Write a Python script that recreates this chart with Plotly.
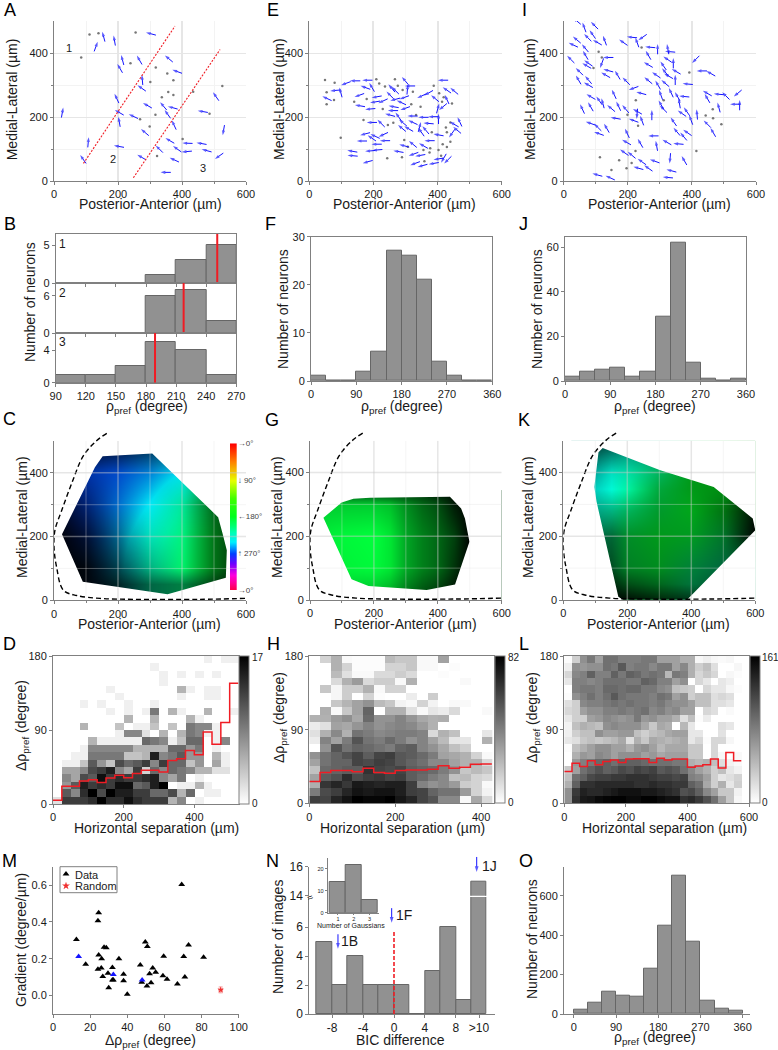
import math
import plotly.graph_objects as go

W, H = 778, 1050
FONT = "Liberation Sans"
TXT = "#1a1a1a"
AXC = "#808080"
BAR = "#919191"
BARL = "#666666"
BLUE = "#1414ff"
RED = "#f01c24"
ARROW_LEN = 32

# ---------- A ----------
A_x = [26,131,155,189,303,214,206,267,359,385,276,274,196,292,342,371,355,204,248,204,465,506,530,375,284,362,417,461,107,203,329,385,415,477,516,274,376,91,349]
A_y = [214,420,451,439,460,378,352,378,382,342,316,290,258,236,234,229,209,214,202,185,217,264,159,175,152,126,118,117,121,108,100,100,92,95,78,74,66,68,27]
A_ang = [80,70,105,100,165,105,120,120,140,160,95,145,115,150,130,165,125,150,155,100,170,125,260,115,140,150,178,170,85,170,135,145,185,165,215,150,155,125,180]
A_gx = [111,139,255,85,239,318,354,301,373,357,373,337,435,526,317,486,269,299,402,322]
A_gy = [458,462,464,386,368,355,336,309,315,278,269,262,279,297,207,210,193,170,131,78]
A_cut1_x = [92,378]
A_cut1_y = [55,484]
A_cut2_x = [248,519]
A_cut2_y = [10,411]

# ---------- E ----------
E_x = [143,114,181,81,98,55,156,175,195,210,205,230,190,158,195,224,174,195,205,231,164,210,236,134,135,190,212,182,278,296,323,356,375,403,325,346,330,353,388,403,419,432,310,289,323,292,278,252,261,263,299,287,268,296,252,268,257,299,314,306,322,356,387,403,372,344,349,363,351,372,392,401,417,417,429,429,452,445,461,469,452]
E_y = [313,305,315,283,277,258,268,292,293,263,247,250,225,235,183,180,147,134,140,145,125,115,126,93,79,94,97,60,92,110,115,110,126,144,84,80,55,48,55,69,71,66,163,165,183,182,201,206,220,232,227,245,255,261,268,283,290,313,297,286,203,199,201,194,180,169,153,159,266,275,258,227,232,315,284,255,281,149,159,185,177]
E_ang = [180,200,180,185,105,155,200,160,120,190,190,205,185,170,180,135,195,145,155,205,180,180,180,170,175,185,185,195,170,165,140,150,180,170,200,190,200,195,190,190,240,225,150,140,155,140,125,165,180,170,200,155,195,200,135,135,130,130,180,85,180,180,180,90,175,75,125,130,205,210,140,75,220,180,145,115,140,235,140,115,150]
E_gx = [49,79,54,77,54,140,179,209,218,236,267,276,291,323,229,318,347,169,245,262,333,98,296,307,243,289,356,377,375,403,359,382,388,405,419,445,414,426,429,440,440,416,429,411]
E_gy = [316,307,277,253,240,248,256,318,305,295,318,298,284,279,225,240,232,191,175,182,206,135,128,107,71,74,97,102,89,97,62,152,298,274,262,242,248,167,152,183,123,115,106,79]

# ---------- I ----------
I_x = [41,51,64,96,75,90,41,30,67,105,128,22,68,77,72,49,46,77,77,119,139,131,139,168,195,186,213,229,246,270,293,264,332,325,324,342,311,264,289,317,351,327,348,264,387,317,294,303,335,412,431,459,218,242,157,85,111,122,84,58,148,171,193,162,84,106,134,110,198,196,239,280,290,322,358,353,374,386,397,369,384,343,304,311,275,229,230,218,244,361,355,376,416,448,448,484,506,543,535,549,484,448,466,189,212,244,233,264,284,332,336,325,376,105,145]
I_y = [500,509,480,486,448,458,441,425,415,433,439,380,393,368,360,342,316,316,300,368,386,331,345,331,312,433,449,433,449,418,412,393,404,412,380,368,360,363,331,340,342,328,316,314,303,305,300,269,276,380,344,336,290,274,271,263,251,243,232,225,227,234,225,196,180,168,165,148,149,121,118,141,110,121,116,154,139,151,191,211,217,185,238,225,206,210,217,189,189,243,264,264,208,274,258,271,266,274,240,237,230,178,152,89,81,60,40,40,62,71,32,11,64,19,10]
I_ang = [140,150,110,135,135,125,140,155,130,150,110,135,120,145,150,135,120,130,150,250,180,150,165,120,135,145,175,110,215,175,90,120,175,100,145,90,125,150,145,130,150,150,90,140,175,140,120,110,115,225,180,150,200,165,115,150,125,105,120,115,140,115,130,170,160,135,120,160,115,150,120,180,100,150,175,130,130,145,110,145,125,125,120,135,90,265,150,160,110,100,120,175,95,150,120,175,135,220,180,90,105,135,120,145,140,145,165,145,160,265,165,175,120,165,155]
I_gx = [109,119,93,392,243,225,312,199,232,465,443,466,492,414,113,173,149,196,212,224]
I_gy = [404,386,353,339,417,252,252,207,173,224,205,196,177,94,74,65,34,40,56,94]

# ---------- B / F / J / O histograms ----------
B_x = [105,135,165,195,225,255]
B1 = [0,0,0,1,3,5]
B2 = [0,0,0,6,7,2]
B3 = [1,1,2,5,4,1]
B_mean = [251,217.5,189]
HIST_x = [15,45,75,105,135,165,195,225,255,285,315,345]
F_vals = [1,0,0,2,6,27,26,21,4,1,0,0]
J_vals = [2,4,5,6,2,4,29,62,8,1,0,1]
O_vals = [22,55,115,95,90,228,447,700,367,70,27,17]

# ---------- C / G / K maps ----------
C_poly_x = [25,128,152,307,513,527,540,537,355,90]
C_poly_y = [207,418,452,461,261,209,157,71,19,58]
C_gx = [0,100,200,300,400,500,600]
C_gy = [0,50,100,200,300,400,470]
C_hue = [[265,262,240,215,205,190,180],
         [265,262,240,215,205,190,180],
         [268,262,245,218,200,185,180],
         [272,268,250,225,205,185,180],
         [272,268,258,240,215,190,180],
         [272,268,265,255,240,210,190],
         [272,268,265,255,240,210,190]]
C_dark = [[1,.95,.85,.6,.5,.75,1],
          [1,.95,.85,.6,.5,.75,1],
          [1,.95,.7,.3,.05,.55,.9],
          [1,.8,.45,.1,.05,.55,.9],
          [.9,.55,.2,.03,.1,.6,.9],
          [.6,.35,.2,.15,.05,.5,.9],
          [.8,.8,.7,.6,.5,.6,.9]]
G_poly_x = [42,99,136,188,438,473,485,499,470,454,365,183,130]
G_poly_y = [258,306,318,321,324,287,256,183,99,49,31,44,65]
G_gx = [0,100,200,250,300,350,400,450,500,600]
G_gy = [20,100,200,300,330]
G_hue = [[187,187,187,186,186,185,185,185,185,185]]*5
G_dark = [[.3,.2,.25,.35,.55,.7,.8,.95,1,1],
          [.1,.05,.02,.1,.35,.5,.6,.8,1,1],
          [.1,.03,0,.1,.35,.5,.6,.75,1,1],
          [.2,.2,.2,.25,.45,.6,.7,.9,1,1],
          [.6,.6,.6,.65,.7,.75,.85,.95,1,1]]
K_poly_x = [123,110,97,104,172,188,386,600,592,470,303]
K_poly_y = [477,464,355,308,10,0,0,219,256,355,407]
K_gx = [50,100,150,200,300,400,500,600]
K_gy = [0,50,100,200,280,350,400,480]
K_hue = [[195,195,195,190,190,205,210,210],
         [195,195,195,190,190,205,210,210],
         [205,205,200,190,186,200,210,210],
         [215,215,205,190,183,186,195,195],
         [225,225,218,205,190,182,182,182],
         [232,232,228,215,195,182,180,180],
         [232,232,228,220,205,182,180,180],
         [230,230,228,225,220,200,180,180]]
K_dark = [[1,1,1,.95,.85,.8,.8,.8],
          [1,.9,.85,.7,.6,.55,.7,.8],
          [.9,.8,.7,.5,.45,.5,.6,.7],
          [.6,.6,.6,.45,.4,.4,.55,1],
          [.35,.35,.3,.3,.4,.35,.55,.95],
          [.2,.15,0,.05,.35,.4,.45,.8],
          [.3,.3,.1,.12,.3,.4,.45,.8],
          [.7,.7,.6,.45,.4,.4,.45,.8]]
BOUND_x = [165,133,92,55,24,3,0,8,29,71,144,248,456,600]
BOUND_y = [524,501,454,366,282,220,168,105,32,15,6,3,3,6]
HUE_STOPS = [0,10,20,30,40,50,60,70,80,90,100,110,120,130,140,150,160,170,180,190,200,210,220,230,240,250,260,270,280,290,300,310,320,330,340,350,360]
HUE_LABELS = ["\u21920\u00b0","\u2193 90\u00b0","\u2190180\u00b0","\u2191 270\u00b0","\u21920\u00b0"]
HUE_TICKS = [0,90,180,270,360]

# ---------- D / H / L ----------
BIN_deg = [4.5+9*i for i in range(20)]
D_z = [
[2,13,13,13,14,17,14,14,16,14,13,13,13,5,8,0,1,0,0,0,0],
[0,11,8,14,17,12,17,15,15,13,13,10,10,12,5,10,0,1,1,0,0],
[0,7,11,15,13,14,13,16,16,10,11,15,17,0,1,1,5,1,0,0,0],
[0,8,6,12,11,16,13,14,13,13,14,15,8,6,9,0,1,0,0,0,0],
[0,6,6,8,12,13,15,8,6,13,3,10,8,10,9,8,5,5,2,2,0],
[0,1,1,4,11,7,4,12,10,11,13,8,13,10,10,4,7,0,6,1,0],
[0,0,1,1,9,9,9,9,4,4,5,15,8,9,11,7,7,0,5,1,0],
[0,0,0,1,8,8,8,8,8,5,5,5,5,10,10,7,9,0,1,0,0],
[0,0,0,0,5,1,1,1,1,1,10,9,8,1,4,10,10,0,1,8,0],
[0,0,0,0,0,0,0,1,8,8,2,0,5,0,5,9,8,1,1,0,0],
[0,0,0,5,0,0,0,4,0,1,1,4,0,4,0,9,8,8,1,0,0],
[0,0,0,0,0,0,0,0,5,0,0,5,0,0,0,5,1,0,0,0,0],
[0,0,0,0,0,0,1,0,1,0,1,9,0,5,1,0,0,5,0,0,1],
[0,0,0,1,0,1,0,0,1,0,0,1,0,0,0,0,0,0,0,0,0],
[0,0,0,0,0,0,0,1,0,0,0,0,0,0,1,0,0,1,1,0,0],
[0,0,0,0,0,0,1,0,0,0,0,0,0,0,5,1,0,1,1,0,0],
[0,0,0,0,0,0,0,0,0,0,0,0,1,0,0,0,0,0,0,0,0],
[0,0,0,0,0,0,0,0,0,0,0,0,1,0,1,0,1,0,1,0,0],
[0,0,0,0,0,0,0,0,0,0,0,1,0,0,0,0,0,0,0,0,0],
[0,0,0,0,0,0,0,0,0,0,0,0,0,0,0,0,0,1,0,1,1],
]
D_red = [4.5,21.5,21.5,28,29.6,26,31.6,35,32,37,41,41,39,53,55,65,60,87.5,72.6,99,147,147]
H_z = [
[62,60,70,76,82,80,80,82,75,70,60,55,38,38,2,28,12],
[42,58,62,70,76,74,76,76,72,62,60,50,45,45,32,14,4],
[26,65,70,64,74,72,70,72,72,62,40,35,38,32,16,14,2],
[30,52,56,68,58,62,64,60,62,52,48,42,38,20,22,14,12],
[20,48,50,52,52,66,60,58,60,52,50,48,42,35,18,22,18],
[30,45,50,50,60,58,62,60,54,50,46,38,38,30,25,25,12],
[35,45,50,55,60,52,60,62,54,52,48,42,30,28,25,14,2],
[0,35,55,45,50,48,45,42,50,52,40,35,28,20,15,0,0],
[6,40,30,42,55,45,42,48,42,35,40,30,22,8,8,0,25],
[10,25,38,25,45,42,38,40,42,42,40,12,25,20,0,0,8],
[6,10,30,28,34,40,35,38,40,38,32,25,0,0,0,0,0],
[25,25,32,36,28,48,35,35,40,34,28,25,26,0,0,0,0],
[0,26,2,18,30,50,0,25,25,10,2,8,6,12,0,0,2],
[0,0,18,24,30,35,22,18,4,2,14,4,0,2,2,0,0],
[0,0,3,16,0,14,1,0,0,6,0,16,0,0,0,0,0],
[0,18,3,16,16,25,2,14,14,0,0,0,0,0,0,0,0],
[0,0,12,25,32,12,16,16,2,25,0,0,0,0,2,0,0],
[0,0,22,10,2,2,12,12,16,12,0,0,1,0,0,0,0],
[0,0,25,14,1,1,1,14,14,18,2,2,0,1,0,0,0],
[0,14,25,2,1,1,1,22,18,18,2,2,30,0,0,0,0],
]
H_red = [26.5,37.5,40,40,38.7,42.8,37.5,36.6,40,40.7,40.7,41.5,46,42.8,44,47.6,48,48]
L_z = [
[70,130,145,148,155,158,160,160,155,155,160,160,155,150,150,130,135,125,110,90,60,35,5,0],
[70,125,140,135,135,140,145,150,150,150,145,145,140,135,130,110,115,100,75,60,35,35,8,0],
[50,100,130,130,135,135,135,135,135,130,130,135,130,130,125,125,100,90,55,30,50,15,30,0],
[40,90,100,115,120,120,125,125,130,130,130,125,120,120,115,120,80,75,60,30,15,20,28,0],
[35,60,90,100,110,100,105,115,110,120,115,120,105,110,105,90,75,60,50,30,40,15,8,0],
[0,65,80,85,95,100,90,100,100,100,95,90,90,90,85,85,50,45,50,40,20,8,4,0],
[0,50,65,60,75,70,60,70,70,70,60,65,55,60,60,60,35,35,0,25,5,0,4,0],
[2,40,50,60,70,70,60,60,50,65,70,60,45,55,55,55,35,35,0,25,0,0,0,0],
[15,20,35,40,35,40,45,55,20,50,35,55,50,45,50,55,15,25,2,25,25,5,0,0],
[10,30,40,40,70,60,60,65,65,40,30,40,45,55,60,60,15,15,0,0,18,0,0,0],
[8,40,50,45,40,70,75,70,70,70,55,35,55,50,0,45,15,0,0,0,20,15,0,0],
[15,30,30,60,65,75,70,65,70,85,65,70,60,60,50,20,40,2,12,0,0,0,0,0],
[25,30,60,70,70,80,80,85,80,85,90,75,80,70,75,60,60,0,25,20,0,3,0,0],
[20,30,75,80,80,85,90,85,90,85,85,80,85,75,70,70,60,40,40,20,20,15,0,0],
[2,70,80,90,80,90,105,90,85,85,85,80,90,85,60,70,30,40,40,20,25,20,0,0],
[0,80,85,85,80,95,95,90,95,95,85,85,75,70,40,35,30,0,25,15,15,5,2,0],
[15,80,80,75,80,90,90,90,85,85,100,95,80,80,60,70,0,25,15,0,15,10,0,0],
[25,75,80,100,80,80,100,85,100,95,85,90,85,45,85,80,50,25,35,25,0,5,2,0],
[10,70,65,70,70,90,85,105,80,85,85,75,85,85,60,75,50,30,40,20,0,0,5,0],
[2,30,70,85,60,90,90,80,80,80,85,85,60,60,60,50,50,5,10,5,3,5,0,0],
]
L_red = [39,49,45,52,47,51,53,50,54,54.5,54.5,50,55,53,54,54,44,45.6,47,54,43,62,52,52]

# ---------- M ----------
M_x = [12.6,24.2,24.6,17.6,24.6,26.2,27.5,28.7,24.2,26,26.8,29.6,30,32,32,32.5,35.5,38,38,40,47,47.8,49.7,50.8,50.6,52,52.8,53.7,55.3,59.6,59.2,61.4,67,69.3,70.4,71,73,81.1]
M_y = [.305,.407,.45,.17,.22,.2,.262,.26,.143,.15,.103,.121,.043,.152,.085,.085,.2,.116,.081,.007,.166,.072,.291,.266,.052,.119,.07,.15,.127,.213,.108,.089,.063,.604,.212,.101,.275,.208]
M_bx = [13.8,32.5,48]
M_by = [.212,.114,.085]
M_rx = [90.3]
M_ry = [.031]

# ---------- N ----------
N_x = [-9,-7,-5,-3,-1,1,3,5,7,9,11]
N_vals = [5,2,4,2,2,2,0,3,6,1,15]
N_in_x = [1,2,3]
N_in_vals = [14,22,6]
N_call_x = [-7.25,-0.3,10.7]
N_call_top = [5.5,7.3,16.67]
N_call_tip = [4.5,6.3,15.63]


def fx(p): return p / W
def fy(p): return 1 - p / H

fig = go.Figure()
annos, shapes = [], []
counter = [0]

def text(px, py, s, size=14, anchor="center", color=TXT, angle=0):
    annos.append(dict(x=fx(px), y=fy(py), xref="paper", yref="paper", text=s, showarrow=False,
                      font=dict(size=size, color=color), xanchor=anchor, yanchor="middle", textangle=angle))

def new_axes(rect, xr, yr, xticks=None, yticks=None, xtitle=None, ytitle=None,
             frame=False, grid=False, xminor=None, yminor=None,
             tick=11, title=14, showx=True, showy=True, visx=True, visy=True, ylabels=None, xlabels=None):
    counter[0] += 1
    n = counter[0]
    x0, y0, x1, y1 = rect
    common = dict(showline=True, linecolor=AXC, linewidth=1, ticks="outside", ticklen=3, tickcolor=AXC,
                  tickwidth=1, tickfont=dict(size=tick, color=TXT), mirror=frame, zeroline=False,
                  showgrid=grid, gridcolor="#e6e6e6", fixedrange=True, layer="above traces")
    xa = dict(common, domain=[fx(x0), fx(x1)], range=xr, anchor=f"y{n}", visible=visx,
              showticklabels=showx, tickangle=0, gridwidth=2)
    ya = dict(common, domain=[fy(y1), fy(y0)], range=yr, anchor=f"x{n}", visible=visy, showticklabels=showy, gridwidth=1)
    if xticks is not None:
        xa.update(tickmode="array", tickvals=xticks)
        if xlabels: xa["ticktext"] = xlabels
    if yticks is not None:
        ya.update(tickmode="array", tickvals=yticks)
        if ylabels: ya["ticktext"] = ylabels
    if xtitle:
        text(xtitle[1], xtitle[2], xtitle[0], title)
    if ytitle:
        text(ytitle[1], ytitle[2], ytitle[0], title, angle=-90)
    if xminor is not None:
        xa["minor"] = dict(tickmode="array", tickvals=xminor, ticks="outside", ticklen=2, tickcolor=AXC,
                           showgrid=grid, gridcolor="#f3f3f3", gridwidth=1)
    if yminor is not None:
        ya["minor"] = dict(tickmode="array", tickvals=yminor, ticks="outside", ticklen=2, tickcolor=AXC,
                           showgrid=grid, gridcolor="#f3f3f3", gridwidth=1)
    fig.layout[f"xaxis{n}" if n > 1 else "xaxis"] = xa
    fig.layout[f"yaxis{n}" if n > 1 else "yaxis"] = ya
    return f"x{n}", f"y{n}"

def arrows(xa, ya, xs, ys, ang, gx, gy):
    lx, ly, sz = [], [], []
    for x, y, a in zip(xs, ys, ang):
        dx = math.cos(math.radians(a)) * ARROW_LEN / 2
        dy = math.sin(math.radians(a)) * ARROW_LEN / 2
        lx += [x - dx, x + dx, None]
        ly += [y - dy, y + dy, None]
        sz += [0, 5, 0]
    fig.add_trace(go.Scatter(x=gx, y=gy, mode="markers", xaxis=xa, yaxis=ya, showlegend=False,
                             marker=dict(size=2.5, color="#777777")))
    fig.add_trace(go.Scatter(x=lx, y=ly, mode="lines+markers", xaxis=xa, yaxis=ya, showlegend=False,
                             line=dict(color=BLUE, width=1),
                             marker=dict(symbol="arrow", angleref="previous", size=sz, color=BLUE, line_width=0)))

SPACE_X = [0,200,400,600]
SPACE_Y = [0,200,400]
MIN_X = [100,300,500]
MIN_Y = [100,300]
TPA = "Posterior-Anterior (\u00b5m)"
TML = "Medial-Lateral (\u00b5m)"
TRHO = "\u03c1<sub>pref</sub> (degree)"
TDRHO = "\u0394\u03c1<sub>pref</sub> (degree)"
TSEP = "Horizontal separation (\u00b5m)"
TN = "Number of neurons"

# ---- row 1: spatial arrows
for rect, xs, ys, ang, gx, gy, xt, yt in [
        ((54,21,246,181),A_x,A_y,A_ang,A_gx,A_gy,(150,203.5),(12.3,99)),
        ((309.3,21,501.7,181),E_x,E_y,E_ang,E_gx,E_gy,(404,204),(279,99)),
        ((563.7,21,756,181),I_x,I_y,I_ang,I_gx,I_gy,(659,204),(530,99))]:
    xa, ya = new_axes(rect, [0,600], [0,500], SPACE_X, SPACE_Y, (TPA,)+xt, (TML,)+yt, grid=True, xminor=MIN_X, yminor=MIN_Y)
    arrows(xa, ya, xs, ys, ang, gx, gy)
    if rect[0] == 54:
        for cx, cy in [(A_cut1_x, A_cut1_y), (A_cut2_x, A_cut2_y)]:
            fig.add_trace(go.Scatter(x=cx, y=cy, mode="lines", xaxis=xa, yaxis=ya, showlegend=False,
                                     line=dict(color=RED, width=1.1, dash="2px,1.5px")))

# ---- B
def bars(xa, ya, xs, vals, width, **kw):
    fig.add_trace(go.Bar(x=xs, y=vals, width=width, xaxis=xa, yaxis=ya, showlegend=False,
                         marker=dict(color=BAR, line=dict(color=BARL, width=1)), **kw))

BT = [90,120,150,180,210,240,270]
for i, (vals, rect, yr, yt, title_) in enumerate([
        (B1, (55.7,234,236.3,283), [0,6.45], [0,5], None),
        (B2, (55.7,283,236.3,333), [0,8.1], [0,6], (TN,30,302)),
        (B3, (55.7,333,236.3,382.7), [0,6.08], [0,4], None)]):
    xa, ya = new_axes(rect, [90,270], yr, BT, yt, (TRHO,147,407) if i == 2 else None, title_, frame=True,
                      showx=(i == 2))
    bars(xa, ya, B_x, vals, 30)
    fig.add_trace(go.Scatter(x=[B_mean[i]]*2, y=yr, mode="lines", xaxis=xa, yaxis=ya, showlegend=False,
                             line=dict(color=RED, width=2)))
    text(63, [244,293,342][i], str(i+1), 12)

# ---- F, J
HT = [0,90,180,270,360]
xa, ya = new_axes((311,236.7,492.3,381), [0,360], [0,30], HT, [0,10,20,30], (TRHO,402,406.5), (TN,283,309), frame=True)
bars(xa, ya, HIST_x, F_vals, 30)
xa, ya = new_axes((565,236.7,746,381), [0,360], [0,64.8], HT, [0,20,40,60], (TRHO,655,406.5), (TN,537,309), frame=True)
bars(xa, ya, HIST_x, J_vals, 30)

# ---- C, G, K
HUE_SCALE = [[0,"#ff0000"],[.125,"#ff8000"],[.25,"#e6ff00"],[.375,"#40ff00"],[.5,"#00ff20"],
             [.6,"#00ffb0"],[.67,"#00f0ff"],[.75,"#0040ff"],[.82,"#7000ff"],[.9,"#ff00e0"],[1,"#ff0040"]]
BLACK_SCALE = [[0,"rgba(0,0,0,0)"],[1,"rgba(0,0,0,1)"]]

def clockwise(px_, py_):
    area = sum(px_[i]*py_[(i+1) % len(px_)] - px_[(i+1) % len(px_)]*py_[i] for i in range(len(px_)))
    return (list(reversed(px_)), list(reversed(py_))) if area > 0 else (list(px_), list(py_))

def map_panel(rect, gx, gy, hue, dark, px_, py_, xt, yt):
    xa, ya = new_axes(rect, [0,600], [0,500], SPACE_X, SPACE_Y, (TPA,)+xt, (TML,)+yt, xminor=MIN_X, yminor=MIN_Y)
    fig.add_trace(go.Heatmap(x=gx, y=gy, z=hue, zmin=0, zmax=360, colorscale=HUE_SCALE, zsmooth="best",
                             showscale=False, xaxis=xa, yaxis=ya, hoverinfo="skip"))
    fig.add_trace(go.Heatmap(x=gx, y=gy, z=dark, zmin=0, zmax=1, colorscale=BLACK_SCALE, zsmooth="best",
                             showscale=False, xaxis=xa, yaxis=ya, hoverinfo="skip"))
    # white surround around the imaged field: a keyhole polygon whose hole runs clockwise
    cx, cy = clockwise(px_, py_)
    mx = [-50,650,650,-50,-50] + cx + [cx[0],-50]
    my = [-50,-50,550,550,-50] + cy + [cy[0],-50]
    fig.add_trace(go.Scatter(x=mx, y=my, mode="lines", fill="toself", fillcolor="white", line=dict(width=0),
                             xaxis=xa, yaxis=ya, showlegend=False, hoverinfo="skip"))
    for v, c, w in [(200,"rgba(200,200,200,.45)",1.5),(400,"rgba(200,200,200,.45)",1.5),
                    (100,"rgba(225,225,225,.35)",1),(300,"rgba(225,225,225,.35)",1),(500,"rgba(225,225,225,.35)",1)]:
        shapes.append(dict(type="line", xref=xa, yref=ya, x0=v, x1=v, y0=0, y1=500, line=dict(color=c, width=w), layer="above"))
        if v < 500:
            shapes.append(dict(type="line", xref=xa, yref=ya, x0=0, x1=600, y0=v, y1=v, line=dict(color=c, width=w), layer="above"))
    # the boundary runs above the frame, so it gets a taller invisible scale of the same unit size
    x0, y0, x1, y1 = rect
    extra = 12
    xo, yo = new_axes((x0, y0-extra, x1, y1), [0,600], [0, 500 + extra*500/(y1-y0)], visx=False, visy=False)
    fig.add_trace(go.Scatter(x=BOUND_x, y=BOUND_y, mode="lines", line=dict(color="black", width=1.4, dash="5px,3px", shape="spline"),
                             xaxis=xo, yaxis=yo, showlegend=False, hoverinfo="skip"))

map_panel((54,441,246,600.3), C_gx, C_gy, C_hue, C_dark, C_poly_x, C_poly_y, (149,624), (22,517))
map_panel((310,440.7,501.7,600), G_gx, G_gy, G_hue, G_dark, G_poly_x, G_poly_y, (405,624), (277,517))
map_panel((563.3,440.7,755.3,600), K_gx, K_gy, K_hue, K_dark, K_poly_x, K_poly_y, (658,624), (528,517))

xa, ya = new_axes((230,443.3,236.7,590), [0,1], [360,0], [], HUE_TICKS, tick=8, visx=False, ylabels=HUE_LABELS)
fig.layout[f"yaxis{ya[1:]}"].update(side="right", ticks="", showline=False, tickfont=dict(size=8, color="#444444"))
fig.add_trace(go.Heatmap(x=[0,1], y=HUE_STOPS, z=[[v,v] for v in HUE_STOPS], zmin=0, zmax=360, colorscale=HUE_SCALE,
                         zsmooth="best", showscale=False, xaxis=xa, yaxis=ya, hoverinfo="skip"))

# ---- D, H, L
GRAY = [[0,"white"],[1,"black"]]
def density(rect, xr, xt, z, red, zmax, cb_x, xtitle, ytitle, lab_x):
    xa, ya = new_axes(rect, xr, [0,180], xt, [0,90,180], (TSEP,)+xtitle, (TDRHO,)+ytitle, frame=True)
    nb = len(z[0])
    centers = [12.5+25*i for i in range(nb)]
    fig.add_trace(go.Heatmap(x=centers, y=BIN_deg, z=z, zmin=0, zmax=zmax, colorscale=GRAY, xaxis=xa, yaxis=ya,
                             hoverinfo="skip",
                             colorbar=dict(x=fx(cb_x), xanchor="left", xpad=0, ypad=0, y=fy(rect[3]), yanchor="bottom",
                                           len=(rect[3]-rect[1])/H, lenmode="fraction", thickness=10,
                                           showticklabels=False, ticks="", outlinecolor=AXC, outlinewidth=1)))
    text(lab_x, rect[1]+1.5, str(zmax), 10, anchor="left")
    text(lab_x, rect[3]-1, "0", 10, anchor="left")
    edges = [25*i for i in range(len(red))]
    fig.add_trace(go.Scatter(x=edges, y=red, mode="lines", line=dict(color=RED, width=1.5, shape="hv"),
                             xaxis=xa, yaxis=ya, showlegend=False))

density((53,656,238.5,804), [0,525], [0,200,400], D_z, D_red, 17, 239, (156,828), (22,726), 250)
density((309.3,656,494,803.3), [0,430], [0,200,400], H_z, H_red, 82, 495, (402,828), (280,718), 505.5)
density((564.3,656,749,803.3), [0,600], [0,200,400,600], L_z, L_red, 161, 749.5, (664,828), (533,718), 759.5)

# ---- M
xa, ya = new_axes((53,866.7,238.7,1014), [0,100], [-0.1,0.7], [0,20,40,60,80,100], [0,0.2,0.4,0.6],
                  (TDRHO,150,1041), ("Gradient (degree/\u00b5m)",21,940))
fig.layout[f"yaxis{ya[1:]}"].tickformat = ".1f"
shapes.append(dict(type="rect", xref="paper", yref="paper", x0=fx(60), x1=fx(117), y0=fy(892.7), y1=fy(866.7),
                   line=dict(color=AXC, width=1), fillcolor="white", layer="below"))
fig.add_trace(go.Scatter(x=M_x, y=M_y, mode="markers", name="Data", xaxis=xa, yaxis=ya, showlegend=False,
                         marker=dict(symbol="triangle-up", size=6, color="black")))
fig.add_trace(go.Scatter(x=M_bx, y=M_by, mode="markers", xaxis=xa, yaxis=ya, showlegend=False,
                         marker=dict(symbol="triangle-up", size=6, color="#1414ff")))
fig.add_trace(go.Scatter(x=M_rx, y=M_ry, mode="markers", name="Random", xaxis=xa, yaxis=ya, showlegend=False,
                         error_y=dict(type="constant", value=0.016, color="#f5a0a0", thickness=1, width=2),
                         error_x=dict(type="constant", value=1, color="#f5a0a0", thickness=1, width=2),
                         marker=dict(symbol="star", size=5, color="#f03030")))
fig.add_trace(go.Scatter(x=[7], y=[0.661], mode="markers", xaxis=xa, yaxis=ya, showlegend=False,
                         marker=dict(symbol="triangle-up", size=6, color="black")))
fig.add_trace(go.Scatter(x=[7], y=[0.596], mode="markers", xaxis=xa, yaxis=ya, showlegend=False,
                         marker=dict(symbol="star", size=6, color="#f03030")))
text(73, 874.5, "Data", 11, anchor="left")
text(73, 885.5, "Random", 11, anchor="left")

# ---- N (broken axis)
xa, ya = new_axes((309.3,897,495,1014), [-10.96,13.07], [0,8.07], [-8,-4,0,4,8,11], [0,2,4,6], ("BIC difference",400,1040), None,
                  xlabels=["-8","-4","0","4","8",">10"], tick=12)
bars(xa, ya, N_x, N_vals, 2)
fig.add_trace(go.Scatter(x=[0,0], y=[0,5.8], mode="lines", line=dict(color=RED, width=1.6, dash="4px,2px"),
                         xaxis=xa, yaxis=ya, showlegend=False))
xa2, ya2 = new_axes((309.3,866.7,495,895.7), [-10.96,13.07], [14,16], [], [14,16], tick=12, showx=False)
fig.layout[f"xaxis{xa2[1:]}"].update(showline=False, ticks="")
bars(xa2, ya2, N_x, N_vals, 2)
xa3, ya3 = new_axes((309.3,850,495,895.7), [-10.96,13.07], [14,14+45.7/14.5], visx=False, visy=False)
text(278, 937, "Number of images", 14, angle=-90)
text(309.5, 897, "\u2248", 10, angle=-25)
for k in range(3):
    xr_, yr_ = (xa3, ya3) if k == 2 else (xa, ya)
    fig.add_trace(go.Scatter(x=[N_call_x[k]]*2, y=[N_call_top[k], N_call_tip[k]], mode="lines+markers", xaxis=xr_, yaxis=yr_,
                             showlegend=False, line=dict(color=BLUE, width=1),
                             marker=dict(symbol="arrow", angleref="previous", size=[0,6], color=BLUE, line_width=0)))
text(349.5, 941, "1B", 14)
text(404, 915, "1F", 14)
text(489, 865.5, "1J", 14)

xa, ya = new_axes((327.7,858,379,912.7), [0.35,3.6], [0,25], [1,2,3], [0,10,20], ("Number of Gaussians",351,925.5), None, tick=5.5, title=7)
fig.layout[f"xaxis{xa[1:]}"].ticklen = 1
fig.layout[f"yaxis{ya[1:]}"].ticklen = 2
bars(xa, ya, N_in_x, N_in_vals, 1)

# ---- O
xa, ya = new_axes((564,866.7,749.7,1014), [-21,375], [0,747], HT, [0,200,400,600], (TRHO,654.7,1038), (TN,532,939))
bars(xa, ya, HIST_x, O_vals, 30)

# ---- panel letters
for s, px_, py_ in [("A",2,10),("E",265,10),("I",520,10),("B",2,224),("F",263,224),("J",517,224),
                    ("C",1,419),("G",263,420),("K",516,420),("D",1,644),("H",265,644),("L",517,644),
                    ("M",0,861),("N",264,861),("O",517,861)]:
    text(px_, py_, s, 18, anchor="left", color="black")

for s, px_, py_ in [("1",69,48),("2",113,159),("3",203,168)]:
    text(px_, py_, s, 11)

fig.update_layout(width=W, height=H, autosize=False, margin=dict(l=0, r=0, t=0, b=0, autoexpand=False),
                  paper_bgcolor="white", plot_bgcolor="rgba(0,0,0,0)", bargap=0, barmode="overlay",
                  font=dict(family=FONT, color=TXT), annotations=annos, shapes=shapes,
                  hovermode=False, showlegend=False)
fig.write_html("out.html", config={"displayModeBar": False, "responsive": False},
               post_script="document.body.style.margin='0';")
